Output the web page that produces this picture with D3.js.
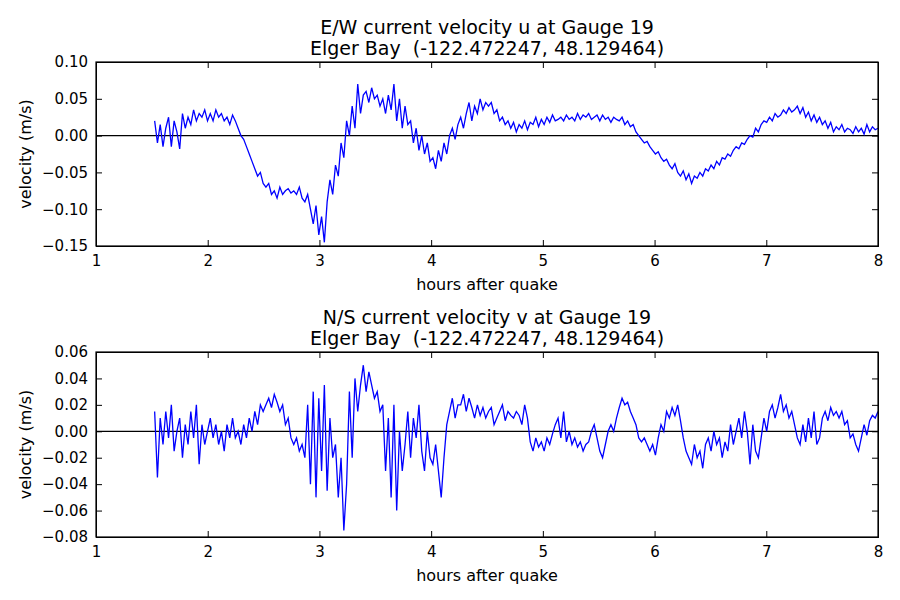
<!DOCTYPE html>
<html>
<head>
<meta charset="utf-8">
<script src="https://cdn.jsdelivr.net/npm/d3@7"></script>
<style>
  body { margin: 0; background: white; }
  text { font-family: "DejaVu Sans", sans-serif; white-space: pre; }
</style>
</head>
<body>
<div id="vis"></div>
<script>
// velocities in mm/s, sampled evenly from tStart to tEnd hours
let tStart = 1.525, tEnd = 8.0;

let uVals = [20,-10,15,-15,10,25,-15,20,5,-18,30,10,25,15,35,20,30,25,35,20,
  30,20,35,25,30,20,25,15,28,20,
  10,0,-5,-15,-25,-35,-45,-55,-50,-65,
  -70,-65,-80,-75,-85,-70,-80,-75,-72,-78,
  -75,-80,-70,-85,-90,-80,-100,-120,-95,-135,
  -110,-145,-90,-60,-80,-40,-55,-10,-30,20,
  0,40,10,70,30,55,60,45,65,50,
  55,40,50,30,55,35,70,20,50,10,
  40,15,20,-10,10,-20,0,-25,-10,-35,
  -30,-45,-20,-35,-10,-25,0,10,-5,15,
  25,10,30,45,20,40,30,50,35,45,
  40,45,30,35,20,25,15,20,10,18,
  5,15,10,20,8,18,15,25,12,22,
  15,25,18,28,20,22,25,20,28,22,
  25,20,30,22,28,25,30,22,25,28,
  20,28,22,25,18,25,22,20,25,15,
  20,12,15,5,0,-5,-10,-8,-15,-20,
  -25,-22,-30,-35,-32,-40,-45,-38,-50,-55,
  -48,-60,-52,-65,-55,-58,-50,-55,-45,-48,
  -40,-45,-35,-40,-30,-32,-25,-28,-20,-15,
  -18,-10,-12,-5,0,-2,10,5,15,20,
  18,25,20,30,25,28,35,30,38,32,
  35,40,30,38,25,32,20,28,18,25,
  15,20,10,18,5,12,8,15,5,10,
  8,3,12,5,10,2,15,5,12,8,10];

let vVals = [15,-35,10,-10,15,-5,20,-15,0,10,-20,5,-10,15,-5,20,-25,5,-10,0,
  10,-5,5,-10,0,-15,5,-5,10,-5,
  0,-10,5,-5,10,0,15,5,20,15,
  20,25,18,28,22,15,20,5,10,-5,
  -10,-5,-15,-10,-20,20,-40,30,-50,25,
  -30,35,-45,10,-20,-10,-50,-20,-75,-40,
  30,-20,40,15,35,50,30,45,35,25,
  30,15,20,-30,10,-50,20,-60,0,-30,
  -10,15,-20,10,-5,20,-15,-30,0,-20,
  -25,-10,-30,-50,-20,5,15,25,10,20,
  20,28,15,25,18,10,20,12,18,10,
  15,18,5,10,15,20,8,15,12,10,
  15,12,5,20,10,-8,-15,-5,-12,-8,
  -15,-5,-10,-2,5,10,-5,15,-8,0,
  -10,-5,-12,-8,-15,-10,-8,0,5,-5,
  -15,-20,-10,0,5,0,10,18,25,20,
  22,15,10,5,-5,-8,-5,-10,-15,-10,
  -18,-5,5,0,15,10,18,12,20,8,
  -5,-15,-20,-25,-10,-20,-15,-28,-10,-5,
  -15,0,-10,-5,-20,-8,-15,5,-10,0,
  10,-5,15,0,-25,5,-15,-20,-5,10,
  0,15,20,10,18,28,15,20,10,15,
  5,-5,-10,5,-8,10,-5,15,-10,-5,
  10,15,8,18,12,15,10,15,5,8,
  -5,-2,-10,-15,-5,5,-3,8,12,10,15];

let xTicks = [1,2,3,4,5,6,7,8];
let uTicks = [0.10,0.05,0.00,-0.05,-0.10,-0.15];
let vTicks = [0.06,0.04,0.02,0.00,-0.02,-0.04,-0.06,-0.08];

let titles = [
  ["E/W current velocity u at Gauge 19", "Elger Bay  (-122.472247, 48.129464)"],
  ["N/S current velocity v at Gauge 19", "Elger Bay  (-122.472247, 48.129464)"]
];

let svg = d3.select('#vis').append('svg')
  .attr('width', 900).attr('height', 600)
  .style('background-color', 'white');

function panel(top, bottom, vals, ticks, title) {
  let left = 96, right = 878;
  let x = d3.scaleLinear().domain([1, 8]).range([left, right]);
  let y = d3.scaleLinear().domain([ticks[ticks.length - 1], ticks[0]]).range([bottom, top]);
  let n = vals.length;
  let pts = vals.map((v, i) => [tStart + i * (tEnd - tStart) / (n - 1), v / 1000]);

  let g = svg.append('g');
  g.append('line')
    .attr('x1', left).attr('x2', right)
    .attr('y1', y(0)).attr('y2', y(0))
    .attr('stroke', 'black').attr('stroke-width', 1.2);

  g.append('path').datum(pts)
    .attr('fill', 'none').attr('stroke', '#0000ff').attr('stroke-width', 1.3)
    .attr('d', d3.line().x(d => x(d[0])).y(d => y(d[1])));

  let fmt = d3.format('.2f');
  g.append('g').attr('transform', `translate(0,${bottom})`)
    .call(d3.axisBottom(x).tickValues(xTicks).tickSize(-6).tickPadding(9).tickFormat(d3.format('d')));
  g.append('g').attr('transform', `translate(0,${top})`)
    .call(d3.axisTop(x).tickValues(xTicks).tickSize(-6).tickFormat(''));
  g.append('g').attr('transform', `translate(${left},0)`)
    .call(d3.axisLeft(y).tickValues(ticks).tickSize(-6).tickPadding(8).tickFormat(d => d === 0 ? '0.00' : (d < 0 ? '\u2212' + fmt(-d) : fmt(d))));
  g.append('g').attr('transform', `translate(${right},0)`)
    .call(d3.axisRight(y).tickValues(ticks).tickSize(-6).tickFormat(''));
  g.selectAll('.domain').attr('stroke', 'black');
  g.selectAll('.tick text').attr('font-size', 15).attr('fill', 'black').style('font-family', '"DejaVu Sans", sans-serif');

  g.append('rect').attr('x', left).attr('y', top)
    .attr('width', right - left).attr('height', bottom - top)
    .attr('fill', 'none').attr('stroke', 'black').attr('stroke-width', 1.2);

  let cx = (left + right) / 2;
  g.append('text').attr('x', cx).attr('y', top - 28).attr('text-anchor', 'middle')
    .attr('font-size', 19).text(title[0]);
  g.append('text').attr('x', cx).attr('y', top - 7).attr('text-anchor', 'middle')
    .attr('font-size', 19).text(title[1]);
  g.append('text').attr('x', cx).attr('y', bottom + 44).attr('text-anchor', 'middle')
    .attr('font-size', 16).text('hours after quake');
  g.append('text').attr('transform', `translate(31,${(top + bottom) / 2}) rotate(-90)`)
    .attr('text-anchor', 'middle').attr('font-size', 16).text('velocity (m/s)');
}

panel(62, 246, uVals, uTicks, titles[0]);
panel(352, 537, vVals, vTicks, titles[1]);
</script>
</body>
</html>
